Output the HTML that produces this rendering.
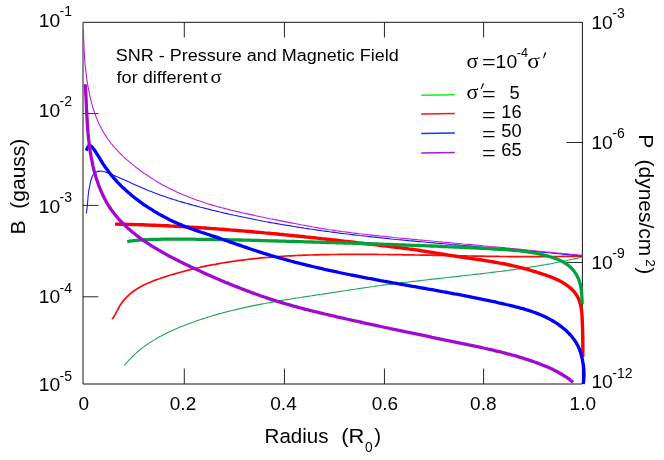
<!DOCTYPE html>
<html><head><meta charset="utf-8"><title>SNR</title>
<style>html,body{margin:0;padding:0;background:#fff;}svg{display:block;will-change:transform;}text{font-family:"Liberation Sans",sans-serif;fill:#000;}text.sf{font-family:"Liberation Serif",serif;}</style>
</head><body>
<svg width="664" height="460" viewBox="0 0 664 460">
<rect width="664" height="460" fill="#fff"/>
<g id="axes">
<path d="M83.00,22.30 H582.40 V384.00 H83.00 Z" fill="none" stroke="#161616" stroke-width="1"/>
<path d="M184.30,22.30 v15.2 M184.30,384.00 v-15.4" stroke="#1a1a1a" stroke-width="0.95"/>
<path d="M284.45,22.30 v15.2 M284.45,384.00 v-15.4" stroke="#1a1a1a" stroke-width="0.95"/>
<path d="M384.45,22.30 v15.2 M384.45,384.00 v-15.4" stroke="#1a1a1a" stroke-width="0.95"/>
<path d="M483.60,22.30 v15.2 M483.60,384.00 v-15.4" stroke="#1a1a1a" stroke-width="0.95"/>
<path d="M83.00,113.60 h15.4" stroke="#1a1a1a" stroke-width="0.95"/>
<path d="M83.00,205.40 h15.4" stroke="#1a1a1a" stroke-width="0.95"/>
<path d="M83.00,296.80 h15.4" stroke="#1a1a1a" stroke-width="0.95"/>
<path d="M582.40,142.50 h-15.9" stroke="#1a1a1a" stroke-width="0.95"/>
<path d="M582.40,262.45 h-15.9" stroke="#1a1a1a" stroke-width="0.95"/>
</g>
<g id="curves">
<path d="M111.9,319.2 L113.5,317.2 L114.8,315.1 L116.0,312.9 L117.2,310.7 L118.3,308.5 L119.5,306.3 L120.8,304.2 L122.3,302.2 L123.8,300.2 L125.5,298.4 L127.2,296.6 L129.0,294.9 L130.8,293.3 L132.8,291.8 L134.8,290.3 L136.8,289.0 L138.9,287.7 L141.1,286.5 L143.3,285.3 L145.5,284.2 L147.8,283.2 L150.1,282.2 L152.4,281.3 L154.7,280.4 L157.1,279.5 L159.5,278.7 L161.9,277.8 L164.3,277.1 L166.7,276.3 L169.1,275.5 L171.5,274.8 L173.9,274.1 L176.3,273.4 L178.7,272.7 L181.2,272.0 L183.6,271.4 L186.0,270.7 L188.4,270.1 L190.9,269.5 L193.3,268.9 L195.7,268.3 L198.2,267.8 L200.6,267.2 L203.0,266.7 L205.5,266.2 L207.9,265.7 L210.4,265.2 L212.8,264.7 L215.3,264.3 L217.7,263.8 L220.1,263.4 L222.6,263.0 L225.0,262.6 L227.5,262.2 L229.9,261.8 L232.4,261.4 L234.9,261.1 L237.3,260.7 L239.8,260.4 L242.2,260.1 L244.7,259.8 L247.1,259.5 L249.6,259.2 L252.1,258.9 L254.5,258.6 L257.0,258.4 L259.4,258.1 L261.9,257.9 L264.4,257.7 L266.8,257.5 L269.3,257.3 L271.8,257.1 L274.3,256.9 L276.7,256.7 L279.2,256.5 L281.7,256.3 L284.1,256.2 L286.6,256.0 L289.1,255.9 L291.6,255.8 L294.0,255.6 L296.5,255.5 L299.0,255.4 L301.5,255.3 L303.9,255.2 L306.4,255.1 L308.9,255.0 L311.4,255.0 L313.9,254.9 L316.4,254.8 L318.8,254.8 L321.3,254.7 L323.8,254.6 L326.3,254.6 L328.8,254.6 L331.3,254.5 L333.7,254.5 L336.2,254.5 L338.7,254.4 L341.2,254.4 L343.7,254.4 L346.2,254.4 L348.7,254.4 L351.2,254.4 L353.6,254.4 L356.1,254.4 L358.6,254.4 L361.1,254.4 L363.6,254.4 L366.1,254.4 L368.6,254.4 L371.1,254.4 L373.6,254.4 L376.1,254.4 L378.6,254.5 L381.1,254.5 L383.6,254.5 L386.1,254.5 L388.5,254.6 L391.0,254.6 L393.5,254.6 L396.0,254.6 L398.5,254.7 L401.0,254.7 L403.5,254.8 L406.0,254.8 L408.5,254.8 L411.0,254.9 L413.5,254.9 L416.0,255.0 L418.5,255.0 L421.0,255.1 L423.5,255.1 L426.0,255.1 L428.5,255.2 L431.0,255.2 L433.5,255.3 L436.0,255.3 L438.5,255.4 L441.0,255.4 L443.5,255.5 L446.0,255.5 L448.5,255.6 L451.0,255.6 L453.4,255.7 L455.9,255.7 L458.4,255.8 L460.9,255.8 L463.4,255.9 L465.9,255.9 L468.4,256.0 L470.9,256.0 L473.4,256.1 L475.9,256.1 L478.4,256.1 L480.9,256.2 L483.4,256.2 L485.9,256.3 L488.4,256.3 L490.9,256.3 L493.4,256.4 L495.9,256.4 L498.3,256.4 L500.8,256.5 L503.3,256.5 L505.8,256.5 L508.3,256.6 L510.8,256.6 L513.3,256.6 L515.8,256.6 L518.3,256.6 L520.8,256.6 L523.2,256.7 L525.7,256.7 L528.2,256.7 L530.7,256.7 L533.2,256.7 L535.7,256.7 L538.2,256.7 L540.6,256.7 L543.1,256.7 L545.6,256.6 L548.1,256.6 L550.6,256.6 L553.0,256.6 L555.5,256.6 L558.0,256.5 L560.5,256.5 L563.0,256.4 L565.4,256.4 L567.9,256.4 L570.4,256.3 L572.9,256.3 L575.3,256.2 L577.8,256.1 L580.3,256.1 L582.7,256.0" fill="none" stroke="#ff0a0a" stroke-width="1.7" stroke-linecap="butt" stroke-linejoin="round"/>
<path d="M124.4,365.4 L126.0,363.4 L127.7,361.5 L129.4,359.6 L131.2,357.8 L133.0,356.0 L134.8,354.3 L136.7,352.6 L138.6,351.0 L140.5,349.4 L142.4,347.9 L144.4,346.4 L146.4,345.0 L148.5,343.6 L150.5,342.2 L152.6,340.9 L154.8,339.6 L156.9,338.3 L159.0,337.1 L161.2,336.0 L163.4,334.8 L165.6,333.7 L167.8,332.6 L170.1,331.5 L172.3,330.5 L174.6,329.5 L176.9,328.5 L179.1,327.5 L181.4,326.6 L183.7,325.7 L186.0,324.8 L188.3,323.9 L190.7,323.0 L193.0,322.2 L195.3,321.3 L197.6,320.5 L200.0,319.7 L202.3,318.9 L204.7,318.2 L207.0,317.4 L209.4,316.7 L211.7,316.0 L214.1,315.3 L216.5,314.6 L218.9,313.9 L221.3,313.3 L223.6,312.6 L226.0,312.0 L228.4,311.4 L230.8,310.8 L233.2,310.2 L235.7,309.6 L238.1,309.1 L240.5,308.5 L242.9,307.9 L245.3,307.4 L247.8,306.9 L250.2,306.4 L252.6,305.9 L255.1,305.4 L257.5,304.9 L260.0,304.4 L262.4,303.9 L264.9,303.5 L267.3,303.0 L269.8,302.6 L272.2,302.1 L274.7,301.7 L277.1,301.3 L279.6,300.9 L282.1,300.4 L284.5,300.0 L287.0,299.6 L289.5,299.2 L291.9,298.8 L294.4,298.4 L296.9,298.0 L299.4,297.7 L301.8,297.3 L304.3,296.9 L306.8,296.5 L309.3,296.1 L311.8,295.8 L314.2,295.4 L316.7,295.0 L319.2,294.6 L321.7,294.3 L324.2,293.9 L326.6,293.5 L329.1,293.1 L331.6,292.7 L334.1,292.4 L336.5,292.0 L339.0,291.6 L341.5,291.2 L344.0,290.8 L346.5,290.5 L348.9,290.1 L351.4,289.7 L353.9,289.3 L356.4,289.0 L358.8,288.6 L361.3,288.2 L363.8,287.9 L366.2,287.5 L368.7,287.2 L371.2,286.8 L373.7,286.5 L376.1,286.1 L378.6,285.8 L381.1,285.5 L383.5,285.1 L386.0,284.8 L388.5,284.5 L391.0,284.2 L393.4,283.9 L395.9,283.5 L398.4,283.2 L400.8,282.9 L403.3,282.6 L405.8,282.3 L408.2,282.0 L410.7,281.7 L413.2,281.4 L415.6,281.2 L418.1,280.9 L420.6,280.6 L423.0,280.3 L425.5,280.0 L428.0,279.7 L430.4,279.4 L432.9,279.2 L435.3,278.9 L437.8,278.6 L440.3,278.3 L442.7,278.1 L445.2,277.8 L447.7,277.5 L450.1,277.2 L452.6,276.9 L455.0,276.7 L457.5,276.4 L460.0,276.1 L462.4,275.8 L464.9,275.6 L467.4,275.3 L469.8,275.0 L472.3,274.7 L474.7,274.4 L477.2,274.1 L479.6,273.9 L482.1,273.6 L484.6,273.3 L487.0,273.0 L489.5,272.7 L491.9,272.4 L494.4,272.1 L496.9,271.8 L499.3,271.5 L501.8,271.2 L504.2,270.9 L506.7,270.6 L509.1,270.2 L511.6,269.9 L514.1,269.6 L516.5,269.2 L519.0,268.9 L521.4,268.5 L523.9,268.2 L526.3,267.8 L528.8,267.4 L531.2,267.0 L533.7,266.6 L536.1,266.2 L538.6,265.8 L541.1,265.4 L543.5,265.0 L546.0,264.6 L548.4,264.1 L550.9,263.7 L553.3,263.2 L555.8,262.7 L558.2,262.3 L560.7,261.8 L563.1,261.3 L565.6,260.8 L568.0,260.2 L570.5,259.7 L572.9,259.2 L575.4,258.6 L577.8,258.1 L580.3,257.5 L582.8,256.9" fill="none" stroke="#22a452" stroke-width="1.1" stroke-linecap="butt" stroke-linejoin="round"/>
<path d="M86.3,213.5 L86.7,211.0 L87.0,208.5 L87.3,206.1 L87.5,203.6 L87.7,201.1 L87.9,198.7 L88.1,196.2 L88.4,193.7 L88.7,191.2 L89.1,188.8 L89.6,186.3 L90.1,183.8 L90.6,181.4 L91.3,179.0 L92.1,176.7 L93.3,174.5 L95.1,172.7 L97.4,171.6 L99.8,171.1 L102.2,171.2 L104.5,171.8 L106.8,172.6 L109.1,173.5 L111.4,174.4 L113.6,175.3 L115.9,176.3 L118.2,177.2 L120.5,178.2 L122.8,179.2 L125.1,180.3 L127.4,181.3 L129.7,182.3 L132.0,183.4 L134.4,184.4 L136.7,185.4 L139.0,186.4 L141.3,187.4 L143.7,188.4 L146.0,189.4 L148.3,190.4 L150.7,191.3 L153.0,192.3 L155.4,193.2 L157.7,194.0 L160.1,194.9 L162.4,195.7 L164.8,196.6 L167.2,197.4 L169.5,198.2 L171.9,198.9 L174.3,199.7 L176.7,200.4 L179.0,201.2 L181.4,201.9 L183.8,202.6 L186.2,203.3 L188.6,203.9 L191.0,204.6 L193.3,205.3 L195.7,205.9 L198.1,206.5 L200.5,207.2 L202.9,207.8 L205.3,208.4 L207.7,209.0 L210.1,209.6 L212.5,210.2 L214.9,210.8 L217.4,211.4 L219.8,212.0 L222.2,212.5 L224.6,213.1 L227.0,213.6 L229.4,214.2 L231.8,214.7 L234.3,215.3 L236.7,215.8 L239.1,216.3 L241.5,216.8 L244.0,217.3 L246.4,217.8 L248.8,218.3 L251.3,218.8 L253.7,219.3 L256.1,219.8 L258.6,220.3 L261.0,220.7 L263.4,221.2 L265.9,221.7 L268.3,222.1 L270.8,222.6 L273.2,223.0 L275.6,223.4 L278.1,223.9 L280.5,224.3 L283.0,224.7 L285.4,225.1 L287.9,225.5 L290.3,225.9 L292.8,226.3 L295.3,226.7 L297.7,227.1 L300.2,227.5 L302.6,227.9 L305.1,228.3 L307.5,228.6 L310.0,229.0 L312.5,229.3 L314.9,229.7 L317.4,230.1 L319.9,230.4 L322.3,230.8 L324.8,231.1 L327.3,231.4 L329.7,231.8 L332.2,232.1 L334.7,232.4 L337.1,232.7 L339.6,233.1 L342.1,233.4 L344.6,233.7 L347.0,234.0 L349.5,234.3 L352.0,234.6 L354.5,234.9 L356.9,235.2 L359.4,235.5 L361.9,235.7 L364.4,236.0 L366.9,236.3 L369.3,236.6 L371.8,236.9 L374.3,237.1 L376.8,237.4 L379.3,237.7 L381.8,237.9 L384.2,238.2 L386.7,238.4 L389.2,238.7 L391.7,239.0 L394.2,239.2 L396.7,239.5 L399.1,239.7 L401.6,239.9 L404.1,240.2 L406.6,240.4 L409.1,240.7 L411.6,240.9 L414.1,241.1 L416.6,241.4 L419.0,241.6 L421.5,241.8 L424.0,242.0 L426.5,242.3 L429.0,242.5 L431.5,242.7 L434.0,242.9 L436.5,243.2 L438.9,243.4 L441.4,243.6 L443.9,243.8 L446.4,244.0 L448.9,244.2 L451.4,244.5 L453.9,244.7 L456.4,244.9 L458.9,245.1 L461.3,245.3 L463.8,245.5 L466.3,245.7 L468.8,245.9 L471.3,246.1 L473.8,246.3 L476.3,246.6 L478.8,246.8 L481.3,247.0 L483.7,247.2 L486.2,247.4 L488.7,247.6 L491.2,247.8 L493.7,248.0 L496.2,248.2 L498.6,248.4 L501.1,248.6 L503.6,248.8 L506.1,249.0 L508.6,249.3 L511.1,249.5 L513.5,249.7 L516.0,249.9 L518.5,250.1 L521.0,250.3 L523.5,250.5 L525.9,250.7 L528.4,251.0 L530.9,251.2 L533.4,251.4 L535.9,251.6 L538.3,251.8 L540.8,252.1 L543.3,252.3 L545.8,252.5 L548.2,252.7 L550.7,253.0 L553.2,253.2 L555.6,253.4 L558.1,253.7 L560.6,253.9 L563.0,254.1 L565.5,254.4 L568.0,254.6 L570.4,254.9 L572.9,255.1 L575.4,255.3 L577.8,255.6 L580.3,255.8 L582.7,256.1" fill="none" stroke="#1414ff" stroke-width="1.1" stroke-linecap="butt" stroke-linejoin="round"/>
<path d="M83.5,29.4 L83.5,31.8 L83.6,34.3 L83.6,36.7 L83.7,39.2 L83.8,41.7 L83.9,44.1 L84.0,46.6 L84.1,49.1 L84.2,51.6 L84.4,54.1 L84.5,56.6 L84.7,59.1 L84.9,61.6 L85.1,64.1 L85.3,66.6 L85.6,69.1 L85.9,71.6 L86.2,74.2 L86.5,76.7 L86.8,79.2 L87.2,81.7 L87.6,84.1 L88.0,86.6 L88.5,89.1 L89.0,91.6 L89.5,94.0 L90.0,96.5 L90.6,98.9 L91.2,101.4 L91.8,103.8 L92.5,106.2 L93.2,108.6 L94.0,110.9 L94.8,113.3 L95.6,115.6 L96.5,117.9 L97.5,120.2 L98.4,122.5 L99.5,124.7 L100.6,126.9 L101.7,129.1 L102.9,131.2 L104.1,133.4 L105.5,135.4 L106.8,137.5 L108.2,139.5 L109.7,141.5 L111.2,143.5 L112.8,145.4 L114.4,147.3 L116.1,149.1 L117.8,151.0 L119.5,152.8 L121.3,154.5 L123.1,156.3 L125.0,158.0 L126.8,159.7 L128.7,161.3 L130.7,163.0 L132.6,164.6 L134.6,166.1 L136.6,167.7 L138.6,169.2 L140.6,170.7 L142.6,172.2 L144.6,173.6 L146.7,175.0 L148.8,176.4 L150.8,177.8 L152.9,179.1 L155.1,180.4 L157.2,181.7 L159.4,183.0 L161.5,184.2 L163.7,185.4 L165.9,186.6 L168.2,187.8 L170.4,188.9 L172.7,190.0 L175.0,191.1 L177.3,192.2 L179.6,193.2 L181.9,194.2 L184.2,195.2 L186.5,196.1 L188.8,197.1 L191.2,198.0 L193.5,198.8 L195.9,199.7 L198.2,200.5 L200.6,201.3 L202.9,202.1 L205.3,202.9 L207.6,203.7 L210.0,204.4 L212.4,205.1 L214.7,205.8 L217.1,206.5 L219.5,207.1 L221.9,207.8 L224.3,208.4 L226.7,209.0 L229.1,209.6 L231.5,210.2 L233.9,210.8 L236.3,211.4 L238.7,211.9 L241.1,212.5 L243.5,213.0 L245.9,213.6 L248.3,214.1 L250.8,214.6 L253.2,215.1 L255.6,215.7 L258.0,216.2 L260.5,216.7 L262.9,217.2 L265.3,217.7 L267.8,218.2 L270.2,218.7 L272.7,219.1 L275.1,219.6 L277.6,220.1 L280.0,220.6 L282.5,221.1 L284.9,221.6 L287.4,222.1 L289.9,222.6 L292.3,223.1 L294.8,223.5 L297.2,224.0 L299.7,224.5 L302.2,225.0 L304.6,225.4 L307.1,225.9 L309.6,226.3 L312.1,226.8 L314.5,227.2 L317.0,227.6 L319.5,228.1 L322.0,228.5 L324.5,228.9 L326.9,229.3 L329.4,229.7 L331.9,230.0 L334.4,230.4 L336.9,230.8 L339.3,231.1 L341.8,231.5 L344.3,231.8 L346.8,232.1 L349.3,232.4 L351.8,232.8 L354.3,233.1 L356.7,233.4 L359.2,233.7 L361.7,234.0 L364.2,234.2 L366.7,234.5 L369.2,234.8 L371.6,235.1 L374.1,235.4 L376.6,235.6 L379.1,235.9 L381.6,236.2 L384.1,236.4 L386.5,236.7 L389.0,236.9 L391.5,237.2 L394.0,237.5 L396.5,237.7 L399.0,238.0 L401.4,238.2 L403.9,238.4 L406.4,238.7 L408.9,238.9 L411.4,239.2 L413.8,239.4 L416.3,239.6 L418.8,239.9 L421.3,240.1 L423.8,240.3 L426.2,240.6 L428.7,240.8 L431.2,241.0 L433.7,241.3 L436.2,241.5 L438.6,241.7 L441.1,241.9 L443.6,242.2 L446.1,242.4 L448.6,242.6 L451.0,242.8 L453.5,243.1 L456.0,243.3 L458.5,243.5 L461.0,243.7 L463.4,244.0 L465.9,244.2 L468.4,244.4 L470.9,244.6 L473.4,244.9 L475.8,245.1 L478.3,245.3 L480.8,245.5 L483.3,245.8 L485.8,246.0 L488.2,246.2 L490.7,246.5 L493.2,246.7 L495.7,246.9 L498.2,247.2 L500.7,247.4 L503.1,247.6 L505.6,247.9 L508.1,248.1 L510.6,248.4 L513.1,248.6 L515.6,248.9 L518.0,249.1 L520.5,249.3 L523.0,249.6 L525.5,249.8 L528.0,250.1 L530.5,250.3 L532.9,250.6 L535.4,250.8 L537.9,251.1 L540.4,251.3 L542.9,251.5 L545.4,251.8 L547.9,252.0 L550.4,252.3 L552.8,252.5 L555.3,252.8 L557.8,253.0 L560.3,253.2 L562.8,253.5 L565.3,253.7 L567.8,253.9 L570.3,254.2 L572.8,254.4 L575.3,254.6 L577.8,254.9 L580.3,255.1 L582.8,255.3" fill="none" stroke="#c01edc" stroke-width="1.1" stroke-linecap="butt" stroke-linejoin="round"/>
<path d="M115.0,224.1 L117.5,224.1 L120.0,224.2 L122.5,224.2 L125.0,224.3 L127.5,224.4 L130.0,224.4 L132.5,224.5 L135.0,224.6 L137.5,224.6 L140.0,224.7 L142.5,224.8 L145.0,224.9 L147.5,225.0 L150.0,225.1 L152.5,225.2 L155.0,225.3 L157.5,225.4 L160.0,225.5 L162.5,225.6 L165.0,225.7 L167.5,225.8 L170.0,226.0 L172.5,226.1 L175.0,226.2 L177.4,226.4 L179.9,226.5 L182.4,226.6 L184.9,226.8 L187.4,226.9 L189.9,227.1 L192.4,227.2 L194.9,227.4 L197.4,227.5 L199.9,227.7 L202.4,227.9 L204.9,228.0 L207.4,228.2 L209.9,228.4 L212.4,228.6 L214.9,228.7 L217.3,228.9 L219.8,229.1 L222.3,229.3 L224.8,229.5 L227.3,229.7 L229.8,229.9 L232.3,230.1 L234.8,230.3 L237.3,230.5 L239.8,230.7 L242.3,230.9 L244.7,231.1 L247.2,231.3 L249.7,231.5 L252.2,231.7 L254.7,232.0 L257.2,232.2 L259.7,232.4 L262.2,232.6 L264.7,232.9 L267.1,233.1 L269.6,233.3 L272.1,233.6 L274.6,233.8 L277.1,234.0 L279.6,234.3 L282.1,234.5 L284.6,234.8 L287.0,235.0 L289.5,235.3 L292.0,235.5 L294.5,235.8 L297.0,236.0 L299.5,236.3 L302.0,236.5 L304.4,236.8 L306.9,237.1 L309.4,237.3 L311.9,237.6 L314.4,237.8 L316.9,238.1 L319.4,238.4 L321.8,238.7 L324.3,238.9 L326.8,239.2 L329.3,239.5 L331.8,239.8 L334.3,240.0 L336.7,240.3 L339.2,240.6 L341.7,240.9 L344.2,241.2 L346.7,241.4 L349.2,241.7 L351.6,242.0 L354.1,242.3 L356.6,242.6 L359.1,242.9 L361.6,243.2 L364.1,243.5 L366.5,243.7 L369.0,244.0 L371.5,244.3 L374.0,244.6 L376.5,244.9 L379.0,245.2 L381.4,245.5 L383.9,245.8 L386.4,246.1 L388.9,246.4 L391.4,246.7 L393.8,247.0 L396.3,247.3 L398.8,247.6 L401.3,247.9 L403.8,248.2 L406.2,248.5 L408.7,248.9 L411.2,249.2 L413.7,249.5 L416.2,249.9 L418.6,250.3 L421.1,250.7 L423.6,251.1 L426.1,251.5 L428.5,251.9 L431.0,252.3 L433.5,252.7 L436.0,253.1 L438.4,253.5 L440.9,253.9 L443.4,254.3 L445.9,254.7 L448.3,255.1 L450.8,255.5 L453.3,255.9 L455.7,256.3 L458.2,256.6 L460.7,257.0 L463.1,257.4 L465.6,257.7 L468.1,258.1 L470.5,258.4 L473.0,258.8 L475.4,259.1 L477.9,259.5 L480.3,259.8 L482.8,260.2 L485.2,260.6 L487.7,261.0 L490.1,261.4 L492.6,261.8 L495.0,262.2 L497.5,262.6 L499.9,263.1 L502.4,263.5 L504.8,264.0 L507.2,264.5 L509.7,265.0 L512.1,265.6 L514.5,266.1 L517.0,266.7 L519.4,267.3 L521.8,267.9 L524.2,268.5 L526.7,269.2 L529.1,269.9 L531.5,270.6 L533.9,271.3 L536.3,272.0 L538.7,272.8 L541.1,273.6 L543.5,274.4 L545.9,275.2 L548.3,276.1 L550.7,276.9 L553.1,277.9 L555.4,278.9 L557.7,279.9 L560.0,281.1 L562.2,282.3 L564.4,283.6 L566.5,285.0 L568.5,286.5 L570.5,288.1 L572.3,289.8 L573.9,291.6 L575.5,293.5 L576.8,295.5 L578.0,297.6 L579.0,299.9 L579.8,302.1 L580.4,304.5 L581.0,306.9 L581.4,309.4 L581.7,311.9 L581.9,314.4 L582.1,316.9 L582.2,319.4 L582.3,321.9 L582.4,324.4 L582.5,326.9 L582.6,329.4 L582.6,331.9 L582.7,334.4 L582.7,336.9 L582.8,339.4 L582.8,341.9 L582.8,344.4 L582.8,346.9 L582.8,349.4 L582.8,351.9 L582.8,354.4 L582.8,356.9" fill="none" stroke="#ff0000" stroke-width="3.4" stroke-linecap="butt" stroke-linejoin="round"/>
<path d="M127.2,241.6 L129.7,241.2 L132.2,240.9 L134.7,240.6 L137.2,240.3 L139.7,240.1 L142.2,239.9 L144.7,239.7 L147.2,239.6 L149.7,239.5 L152.2,239.4 L154.6,239.3 L157.1,239.3 L159.6,239.3 L162.1,239.2 L164.6,239.2 L167.1,239.2 L169.6,239.2 L172.1,239.2 L174.6,239.2 L177.1,239.2 L179.6,239.2 L182.1,239.2 L184.6,239.2 L187.1,239.2 L189.5,239.2 L192.0,239.2 L194.5,239.2 L197.0,239.3 L199.5,239.3 L202.0,239.3 L204.5,239.3 L207.0,239.4 L209.5,239.4 L212.0,239.4 L214.5,239.5 L217.0,239.5 L219.5,239.6 L222.0,239.6 L224.5,239.7 L227.0,239.7 L229.5,239.8 L232.0,239.8 L234.5,239.9 L237.0,239.9 L239.4,240.0 L241.9,240.1 L244.4,240.1 L246.9,240.2 L249.4,240.2 L251.9,240.3 L254.4,240.4 L256.9,240.4 L259.4,240.5 L261.9,240.6 L264.4,240.7 L266.9,240.7 L269.4,240.8 L271.9,240.9 L274.4,240.9 L276.9,241.0 L279.4,241.1 L281.9,241.2 L284.4,241.2 L286.9,241.3 L289.4,241.4 L291.9,241.4 L294.4,241.5 L296.9,241.6 L299.4,241.7 L301.9,241.7 L304.4,241.8 L306.9,241.9 L309.3,241.9 L311.8,242.0 L314.3,242.1 L316.8,242.2 L319.3,242.2 L321.8,242.3 L324.3,242.4 L326.8,242.5 L329.3,242.5 L331.8,242.6 L334.3,242.7 L336.8,242.8 L339.3,242.8 L341.8,242.9 L344.3,243.0 L346.8,243.1 L349.3,243.1 L351.8,243.2 L354.3,243.3 L356.8,243.4 L359.3,243.4 L361.8,243.5 L364.3,243.6 L366.8,243.7 L369.3,243.8 L371.8,243.9 L374.3,243.9 L376.8,244.0 L379.3,244.1 L381.7,244.2 L384.2,244.3 L386.7,244.4 L389.2,244.4 L391.7,244.5 L394.2,244.6 L396.7,244.7 L399.2,244.8 L401.7,244.9 L404.2,245.0 L406.7,245.1 L409.2,245.2 L411.7,245.3 L414.2,245.3 L416.7,245.4 L419.2,245.5 L421.7,245.6 L424.2,245.7 L426.7,245.8 L429.2,245.9 L431.6,246.0 L434.1,246.1 L436.6,246.2 L439.1,246.3 L441.6,246.5 L444.1,246.6 L446.6,246.7 L449.1,246.8 L451.6,246.9 L454.1,247.0 L456.6,247.1 L459.1,247.2 L461.6,247.3 L464.1,247.5 L466.5,247.6 L469.0,247.7 L471.5,247.8 L474.0,247.9 L476.5,248.1 L479.0,248.2 L481.5,248.3 L484.0,248.4 L486.5,248.6 L489.0,248.7 L491.5,248.8 L493.9,249.0 L496.4,249.1 L498.9,249.3 L501.4,249.4 L503.9,249.5 L506.4,249.7 L508.9,249.9 L511.4,250.1 L513.8,250.3 L516.3,250.5 L518.8,250.7 L521.3,251.0 L523.7,251.3 L526.2,251.6 L528.7,252.0 L531.2,252.3 L533.6,252.8 L536.1,253.2 L538.5,253.7 L541.0,254.3 L543.4,254.9 L545.9,255.5 L548.3,256.2 L550.7,257.0 L553.2,257.8 L555.6,258.6 L558.0,259.6 L560.3,260.6 L562.6,261.7 L564.8,263.0 L566.9,264.3 L568.8,265.8 L570.7,267.5 L572.4,269.2 L574.0,271.1 L575.4,273.1 L576.7,275.2 L577.8,277.4 L578.8,279.7 L579.6,282.1 L580.3,284.5 L580.8,286.9 L581.2,289.4 L581.5,291.9 L581.7,294.4 L581.9,297.0 L582.0,299.5 L582.1,302.0 L582.2,304.4" fill="none" stroke="#02a238" stroke-width="3.3" stroke-linecap="butt" stroke-linejoin="round"/>
<path d="M86.4,150.6 L87.2,148.3 L88.7,146.1 L90.8,145.8 L92.7,147.7 L94.2,149.8 L95.6,151.8 L96.9,153.8 L98.2,155.9 L99.5,158.0 L100.8,160.2 L102.1,162.3 L103.4,164.4 L104.8,166.5 L106.3,168.6 L107.8,170.6 L109.3,172.6 L110.8,174.5 L112.4,176.5 L114.1,178.4 L115.7,180.2 L117.4,182.1 L119.2,183.9 L120.9,185.7 L122.7,187.4 L124.6,189.1 L126.4,190.8 L128.3,192.5 L130.2,194.1 L132.1,195.7 L134.1,197.3 L136.1,198.9 L138.1,200.4 L140.1,201.9 L142.1,203.3 L144.2,204.8 L146.3,206.2 L148.4,207.6 L150.5,208.9 L152.6,210.2 L154.7,211.6 L156.9,212.8 L159.0,214.1 L161.2,215.3 L163.4,216.5 L165.6,217.6 L167.8,218.8 L170.0,219.9 L172.2,220.9 L174.5,222.0 L176.7,223.0 L179.0,224.0 L181.2,224.9 L183.5,225.9 L185.8,226.8 L188.1,227.6 L190.4,228.5 L192.7,229.3 L195.0,230.1 L197.4,230.9 L199.7,231.7 L202.0,232.5 L204.4,233.2 L206.7,234.0 L209.1,234.8 L211.4,235.6 L213.8,236.3 L216.2,237.1 L218.5,237.9 L220.9,238.7 L223.3,239.5 L225.7,240.4 L228.1,241.2 L230.5,242.1 L232.9,242.9 L235.3,243.8 L237.7,244.6 L240.1,245.4 L242.5,246.3 L244.9,247.1 L247.3,247.9 L249.7,248.7 L252.1,249.5 L254.5,250.3 L256.9,251.1 L259.3,251.9 L261.7,252.6 L264.1,253.4 L266.5,254.1 L268.9,254.8 L271.3,255.6 L273.7,256.3 L276.1,257.0 L278.5,257.7 L281.0,258.3 L283.4,259.0 L285.8,259.7 L288.2,260.3 L290.6,261.0 L293.0,261.6 L295.4,262.3 L297.8,262.9 L300.3,263.5 L302.7,264.1 L305.1,264.7 L307.5,265.3 L309.9,265.9 L312.4,266.5 L314.8,267.0 L317.2,267.6 L319.6,268.2 L322.0,268.7 L324.5,269.3 L326.9,269.8 L329.3,270.4 L331.7,270.9 L334.2,271.4 L336.6,271.9 L339.0,272.5 L341.5,273.0 L343.9,273.5 L346.3,274.0 L348.8,274.5 L351.2,275.0 L353.6,275.4 L356.1,275.9 L358.5,276.4 L361.0,276.9 L363.4,277.4 L365.8,277.8 L368.3,278.3 L370.7,278.7 L373.2,279.2 L375.6,279.7 L378.1,280.1 L380.5,280.6 L383.0,281.0 L385.4,281.5 L387.9,281.9 L390.3,282.3 L392.8,282.8 L395.2,283.2 L397.7,283.7 L400.2,284.1 L402.6,284.5 L405.1,285.0 L407.5,285.4 L410.0,285.8 L412.5,286.3 L414.9,286.7 L417.4,287.1 L419.9,287.6 L422.3,288.0 L424.8,288.4 L427.2,288.9 L429.7,289.3 L432.2,289.7 L434.6,290.2 L437.1,290.6 L439.6,291.1 L442.0,291.5 L444.5,292.0 L447.0,292.4 L449.4,292.9 L451.9,293.3 L454.3,293.8 L456.8,294.2 L459.3,294.7 L461.7,295.2 L464.2,295.6 L466.7,296.1 L469.1,296.6 L471.6,297.1 L474.0,297.6 L476.5,298.1 L478.9,298.6 L481.4,299.1 L483.9,299.6 L486.3,300.1 L488.8,300.6 L491.2,301.2 L493.7,301.7 L496.1,302.2 L498.6,302.8 L501.0,303.3 L503.4,303.9 L505.9,304.5 L508.3,305.0 L510.8,305.6 L513.2,306.2 L515.6,306.8 L518.1,307.4 L520.5,308.1 L522.9,308.7 L525.3,309.4 L527.7,310.2 L530.0,310.9 L532.4,311.7 L534.7,312.5 L537.0,313.4 L539.3,314.3 L541.6,315.2 L543.9,316.2 L546.1,317.3 L548.3,318.4 L550.5,319.6 L552.6,320.8 L554.8,322.1 L556.8,323.4 L558.9,324.9 L560.9,326.4 L562.9,327.9 L564.9,329.6 L566.8,331.3 L568.6,333.1 L570.4,335.0 L572.1,336.9 L573.6,338.9 L575.1,341.0 L576.4,343.1 L577.6,345.2 L578.6,347.4 L579.6,349.7 L580.4,352.0 L581.1,354.3 L581.7,356.7 L582.3,359.1 L582.7,361.5 L583.2,364.0 L583.5,366.5 L583.8,369.0 L583.9,371.5 L584.0,374.0 L584.0,376.5 L583.8,379.0 L583.6,381.4 L583.2,383.9" fill="none" stroke="#0000ff" stroke-width="3.3" stroke-linecap="butt" stroke-linejoin="round"/>
<path d="M85.3,84.3 L85.4,86.7 L85.6,89.2 L85.7,91.7 L85.8,94.2 L86.0,96.7 L86.1,99.2 L86.2,101.6 L86.3,104.1 L86.4,106.6 L86.5,109.1 L86.7,111.6 L86.8,114.1 L86.9,116.6 L87.1,119.0 L87.2,121.5 L87.4,124.0 L87.5,126.5 L87.7,129.0 L87.9,131.5 L88.1,133.9 L88.4,136.4 L88.6,138.9 L88.9,141.4 L89.2,143.9 L89.5,146.3 L89.9,148.8 L90.2,151.3 L90.6,153.8 L91.0,156.2 L91.5,158.7 L92.0,161.1 L92.5,163.6 L93.0,166.1 L93.6,168.5 L94.2,171.0 L94.9,173.4 L95.6,175.8 L96.3,178.2 L97.1,180.6 L97.9,183.0 L98.7,185.3 L99.6,187.7 L100.6,190.0 L101.6,192.3 L102.6,194.5 L103.7,196.8 L104.8,199.0 L105.9,201.1 L107.2,203.3 L108.4,205.4 L109.8,207.5 L111.1,209.5 L112.6,211.5 L114.1,213.5 L115.6,215.4 L117.2,217.3 L118.8,219.2 L120.5,221.0 L122.2,222.8 L124.0,224.5 L125.8,226.2 L127.6,227.9 L129.5,229.6 L131.4,231.2 L133.3,232.8 L135.2,234.3 L137.2,235.9 L139.2,237.4 L141.2,238.8 L143.3,240.3 L145.3,241.7 L147.4,243.1 L149.5,244.4 L151.6,245.8 L153.7,247.1 L155.8,248.4 L158.0,249.7 L160.1,250.9 L162.2,252.2 L164.4,253.4 L166.6,254.6 L168.7,255.8 L170.9,256.9 L173.1,258.1 L175.3,259.2 L177.5,260.3 L179.7,261.5 L182.0,262.6 L184.2,263.7 L186.4,264.8 L188.7,265.8 L190.9,266.9 L193.2,268.0 L195.4,269.1 L197.7,270.1 L200.0,271.1 L202.3,272.2 L204.5,273.2 L206.8,274.2 L209.1,275.3 L211.4,276.3 L213.7,277.3 L216.0,278.3 L218.3,279.2 L220.6,280.2 L222.9,281.2 L225.2,282.2 L227.6,283.1 L229.9,284.1 L232.2,285.0 L234.5,286.0 L236.9,286.9 L239.2,287.8 L241.5,288.7 L243.9,289.6 L246.2,290.5 L248.6,291.4 L250.9,292.3 L253.2,293.1 L255.6,294.0 L257.9,294.8 L260.3,295.7 L262.7,296.5 L265.0,297.3 L267.4,298.1 L269.7,298.9 L272.1,299.6 L274.5,300.4 L276.9,301.2 L279.2,301.9 L281.6,302.6 L284.0,303.3 L286.4,304.0 L288.8,304.7 L291.1,305.4 L293.5,306.1 L295.9,306.7 L298.3,307.4 L300.7,308.0 L303.1,308.6 L305.5,309.3 L307.9,309.9 L310.3,310.5 L312.7,311.1 L315.1,311.7 L317.5,312.2 L319.9,312.8 L322.3,313.4 L324.7,314.0 L327.1,314.5 L329.6,315.1 L332.0,315.7 L334.4,316.2 L336.8,316.8 L339.2,317.3 L341.6,317.9 L344.1,318.4 L346.5,319.0 L348.9,319.5 L351.3,320.1 L353.8,320.6 L356.2,321.2 L358.6,321.7 L361.1,322.2 L363.5,322.8 L365.9,323.3 L368.4,323.8 L370.8,324.4 L373.2,324.9 L375.7,325.4 L378.1,325.9 L380.6,326.5 L383.0,327.0 L385.4,327.5 L387.9,328.0 L390.3,328.6 L392.8,329.1 L395.2,329.6 L397.7,330.1 L400.1,330.6 L402.5,331.1 L405.0,331.7 L407.4,332.2 L409.9,332.7 L412.3,333.2 L414.8,333.7 L417.2,334.2 L419.7,334.7 L422.1,335.2 L424.6,335.7 L427.0,336.2 L429.5,336.7 L431.9,337.3 L434.4,337.8 L436.8,338.3 L439.3,338.8 L441.7,339.3 L444.2,339.8 L446.6,340.3 L449.1,340.8 L451.5,341.3 L454.0,341.8 L456.5,342.3 L458.9,342.8 L461.4,343.3 L463.8,343.8 L466.3,344.3 L468.7,344.9 L471.2,345.4 L473.6,345.9 L476.0,346.4 L478.5,346.9 L480.9,347.4 L483.4,348.0 L485.8,348.5 L488.3,349.1 L490.7,349.6 L493.1,350.2 L495.5,350.8 L498.0,351.3 L500.4,351.9 L502.8,352.5 L505.2,353.1 L507.6,353.8 L510.0,354.4 L512.4,355.1 L514.8,355.7 L517.2,356.4 L519.5,357.1 L521.9,357.8 L524.3,358.6 L526.6,359.3 L529.0,360.1 L531.3,360.9 L533.7,361.7 L536.0,362.5 L538.3,363.4 L540.6,364.3 L542.9,365.2 L545.2,366.1 L547.5,367.1 L549.7,368.1 L552.0,369.1 L554.2,370.2 L556.4,371.3 L558.6,372.5 L560.7,373.7 L562.9,375.0 L565.0,376.3 L567.1,377.7 L569.1,379.1 L571.1,380.7 L573.1,382.2" fill="none" stroke="#a20ad2" stroke-width="3.3" stroke-linecap="butt" stroke-linejoin="round"/>
</g>
<g id="legend">
<path d="M421.2,95.20 L454.8,94.70" stroke="#18ee18" stroke-width="1.6"/>
<path d="M421.2,114.00 L454.8,113.50" stroke="#ff1414" stroke-width="1.6"/>
<path d="M421.2,133.55 L454.8,133.05" stroke="#0040ff" stroke-width="1.6"/>
<path d="M421.2,153.00 L454.8,152.50" stroke="#aa18d8" stroke-width="1.6"/>
</g>
<g id="labels">
<text transform="translate(38.70,26.60) scale(1.05,1)" font-size="18.3">10</text><text x="59.60" y="16.00" font-size="14">-1</text>
<text transform="translate(38.70,116.80) scale(1.05,1)" font-size="18.3">10</text><text x="59.60" y="106.20" font-size="14">-2</text>
<text transform="translate(38.70,212.50) scale(1.05,1)" font-size="18.3">10</text><text x="59.60" y="201.90" font-size="14">-3</text>
<text transform="translate(38.70,303.10) scale(1.05,1)" font-size="18.3">10</text><text x="59.60" y="292.50" font-size="14">-4</text>
<text transform="translate(38.70,391.20) scale(1.05,1)" font-size="18.3">10</text><text x="59.60" y="380.60" font-size="14">-5</text>
<text transform="translate(591.40,28.50) scale(1.05,1)" font-size="18.3">10</text><text x="612.30" y="17.90" font-size="14">-3</text>
<text transform="translate(591.40,148.50) scale(1.05,1)" font-size="18.3">10</text><text x="612.30" y="137.90" font-size="14">-6</text>
<text transform="translate(591.40,268.50) scale(1.05,1)" font-size="18.3">10</text><text x="612.30" y="257.90" font-size="14">-9</text>
<text transform="translate(591.40,388.40) scale(1.05,1)" font-size="18.3">10</text><text x="612.30" y="377.80" font-size="14">-12</text>
<text x="83.90" y="410" font-size="19" text-anchor="middle">0</text>
<text x="183.00" y="410" font-size="19" text-anchor="middle">0.2</text>
<text x="283.50" y="410" font-size="19" text-anchor="middle">0.4</text>
<text x="384.90" y="410" font-size="19" text-anchor="middle">0.6</text>
<text x="483.30" y="410" font-size="19" text-anchor="middle">0.8</text>
<text x="582.80" y="410" font-size="19" text-anchor="middle">1.0</text>
<text transform="translate(25.3,234.4) rotate(-90)" font-size="21" xml:space="preserve">B  (gauss)</text>
<text x="264.6" y="443.3" font-size="20.5">Radius</text><text transform="translate(341.3,443.3) scale(1.07,1)" font-size="20.5">(R</text><text x="364.9" y="451.6" font-size="13.8">0</text><text x="374.3" y="443.3" font-size="20.5">)</text>
<text transform="translate(638.8,134.2) rotate(90)" font-size="21" xml:space="preserve">P  (dynes/cm</text><text transform="translate(645.9,259.2) rotate(90)" font-size="13.6">2</text><text transform="translate(638.8,267.3) rotate(90)" font-size="21">)</text>
<text transform="translate(115.85,60.6) scale(1.041,1)" font-size="17.3">SNR - Pressure and Magnetic Field</text>
<text transform="translate(116.6,82.5) scale(1.045,1)" font-size="17.3">for different</text><text transform="translate(210.6,82.5) scale(1.1,1)" font-size="19" class="sf">σ</text>
<text x="466.5" y="67.7" font-size="22" class="sf">σ</text><text transform="translate(481.9,68.2) scale(1.3,1.06)" font-size="18">=</text><text transform="translate(495.6,67.8) scale(1.06,1)" font-size="18.3">10</text><text x="516.8" y="57.0" font-size="12.6">-4</text><text transform="translate(527.3,67.7) scale(1.06,1)" font-size="22" class="sf">σ</text><path d="M544.80,52.60 L546.50,52.60 L543.90,58.20 L543.00,58.20 Z" fill="#000"/>
<text x="466.5" y="98.7" font-size="22" class="sf">σ</text><path d="M482.50,83.50 L484.20,83.50 L481.60,89.10 L480.70,89.10 Z" fill="#000"/><text transform="translate(481.9,100.1) scale(1.3,1.06)" font-size="18">=</text><text x="509.5" y="98.8" font-size="18.3">5</text>
<text transform="translate(481.9,120.8) scale(1.3,1.06)" font-size="18">=</text><text x="501.3" y="118.0" font-size="18.3">16</text>
<text transform="translate(481.9,140.1) scale(1.3,1.06)" font-size="18">=</text><text x="501.3" y="137.3" font-size="18.3">50</text>
<text transform="translate(481.9,159.1) scale(1.3,1.06)" font-size="18">=</text><text x="501.3" y="156.3" font-size="18.3">65</text>
</g>
</svg>
</body></html>
